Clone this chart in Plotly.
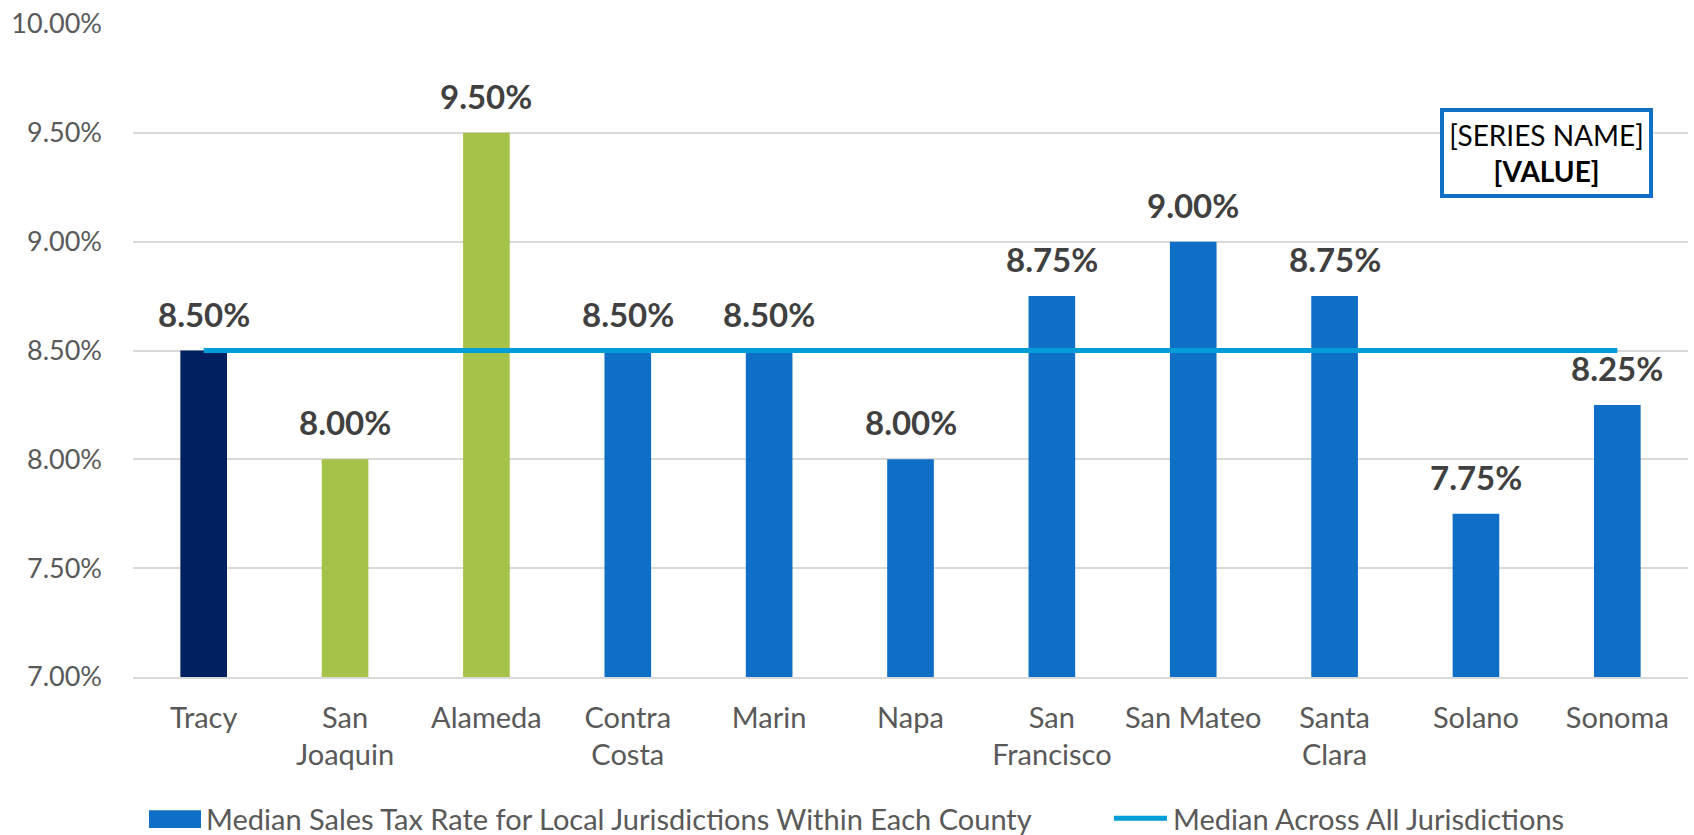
import plotly.graph_objects as go

# ---- data -------------------------------------------------------------
counties = ["Tracy", "San Joaquin", "Alameda", "Contra Costa", "Marin", "Napa",
            "San Francisco", "San Mateo", "Santa Clara", "Solano", "Sonoma"]
county_tick_text = ["Tracy", "San<br>Joaquin", "Alameda", "Contra<br>Costa", "Marin",
                    "Napa", "San<br>Francisco", "San Mateo", "Santa<br>Clara",
                    "Solano", "Sonoma"]
median_county_rate = [8.50, 8.00, 9.50, 8.50, 8.50, 8.00, 8.75, 9.00, 8.75, 7.75, 8.25]
median_all_jurisdictions = [8.50, 8.50, 8.50, 8.50, 8.50, 8.50, 8.50, 8.50, 8.50, 8.50, 8.50]
y_tick_values = [7.00, 7.50, 8.00, 8.50, 9.00, 9.50, 10.00]
y_tick_text = ["7.00%", "7.50%", "8.00%", "8.50%", "9.00%", "9.50%", "10.00%"]

bar_series_name = "Median Sales Tax Rate for Local Jurisdictions Within Each County"
line_series_name = "Median Across All Jurisdictions"

# ---- styling ----------------------------------------------------------
NAVY = "#002060"
GREEN = "#A5C249"
BLUE = "#0F6FC6"
LINE_BLUE = "#009DD9"
bar_colors = [NAVY, GREEN, GREEN] + [BLUE] * 8

FONT = "Lato"
W, H = 1694, 835
M_L, M_R, M_T, M_B = 133, 6, 20, 158
plot_w = W - M_L - M_R
plot_h = H - M_T - M_B


def px_x(px):
    return (px - M_L) / plot_w


def px_y(py):
    return (H - M_B - py) / plot_h


fig = go.Figure()

fig.add_trace(go.Bar(
    x=counties, y=median_county_rate, name=bar_series_name,
    marker=dict(color=bar_colors, line=dict(width=0)),
    showlegend=False, hoverinfo="x+y",
))

fig.add_trace(go.Scatter(
    x=counties, y=median_all_jurisdictions, name=line_series_name,
    mode="lines", line=dict(color=LINE_BLUE, width=5),
    showlegend=False,
))

# value labels above each bar
annotations = []
for c, v in zip(counties, median_county_rate):
    annotations.append(dict(
        x=c, y=v, xref="x", yref="y", text=f"{v:.2f}%",
        showarrow=False, yanchor="bottom", xanchor="center", yshift=15,
        font=dict(family=FONT, size=33, color="#404040", weight="bold"),
    ))

# placeholder callout of the line series
annotations.append(dict(
    x=px_x(1546.5), y=px_y(150), xref="paper", yref="paper",
    text="[SERIES NAME]<br><b>[VALUE]</b>", showarrow=False,
    xanchor="center", yanchor="middle", align="center",
    font=dict(family=FONT, size=28, color="#000000"),
    bgcolor="#FFFFFF", bordercolor="#1170C6", borderwidth=4, borderpad=6,
    width=193, height=70,
))

# legend
shapes = [
    dict(type="rect", xref="paper", yref="paper",
         x0=px_x(149), x1=px_x(201), y0=px_y(829), y1=px_y(811),
         fillcolor=BLUE, line=dict(width=0)),
    dict(type="line", xref="paper", yref="paper",
         x0=px_x(1114), x1=px_x(1167), y0=px_y(819), y1=px_y(819),
         line=dict(color=LINE_BLUE, width=5)),
]
annotations.append(dict(
    x=px_x(204), y=px_y(819), xref="paper", yref="paper", text=bar_series_name,
    showarrow=False, xanchor="left", yanchor="middle",
    font=dict(family=FONT, size=29, color="#595959"),
))
annotations.append(dict(
    x=px_x(1171), y=px_y(819), xref="paper", yref="paper", text=line_series_name,
    showarrow=False, xanchor="left", yanchor="middle",
    font=dict(family=FONT, size=29, color="#595959"),
))

fig.update_layout(
    width=W, height=H,
    margin=dict(l=M_L, r=M_R, t=M_T, b=M_B, pad=0),
    paper_bgcolor="white", plot_bgcolor="white",
    bargap=0.67,
    showlegend=False,
    font=dict(family=FONT, color="#595959"),
    annotations=annotations,
    shapes=shapes,
    xaxis=dict(
        tickmode="array", tickvals=counties, ticktext=county_tick_text,
        tickfont=dict(family=FONT, size=29, color="#595959"),
        showline=True, linecolor="#D9D9D9", linewidth=1.5,
        showgrid=False, ticks="", ticklabelstandoff=14,
        range=[-0.5, len(counties) - 0.5],
    ),
    yaxis=dict(
        range=[7, 10], tickmode="array",
        tickvals=y_tick_values, ticktext=y_tick_text,
        tickfont=dict(family=FONT, size=27, color="#595959"),
        showgrid=True, gridcolor="#D9D9D9", gridwidth=1.5,
        zeroline=False, showline=False, ticks="", ticklabelstandoff=30,
    ),
)

fig.write_html("out.html")
